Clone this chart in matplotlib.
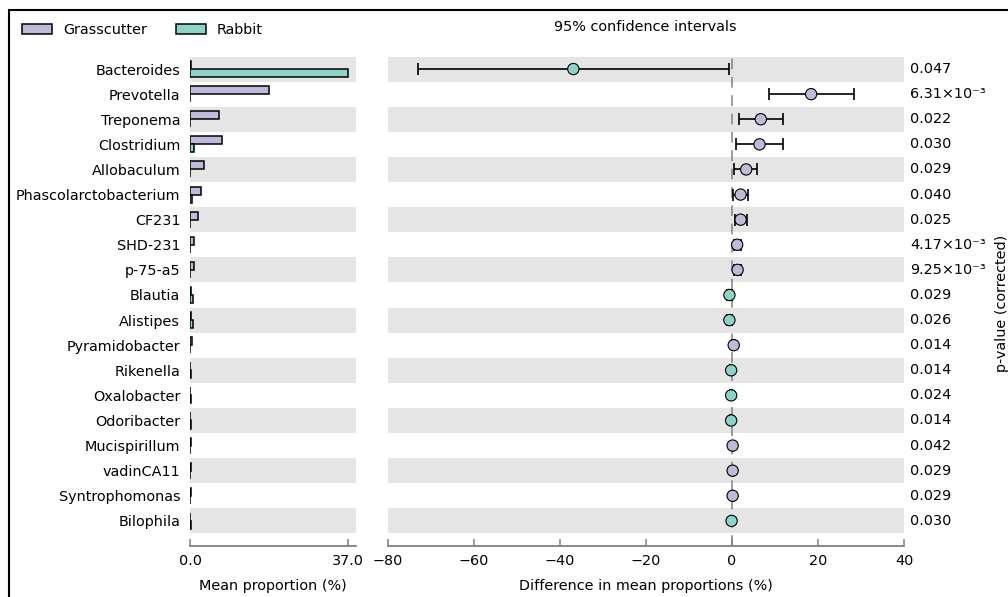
import matplotlib
matplotlib.use("Agg")
import matplotlib.pyplot as plt
import matplotlib.transforms as mtransforms
from matplotlib.patches import Patch, Rectangle
import numpy as np

plt.rcParams["font.family"] = ["DejaVu Sans"]
FS = 10.4

genera = ["Bacteroides", "Prevotella", "Treponema", "Clostridium", "Allobaculum",
          "Phascolarctobacterium", "CF231", "SHD-231", "p-75-a5", "Blautia",
          "Alistipes", "Pyramidobacter", "Rikenella", "Oxalobacter", "Odoribacter",
          "Mucispirillum", "vadinCA11", "Syntrophomonas", "Bilophila"]

# mean proportions (%)
grasscutter = [0.3, 18.5, 6.8, 7.4, 3.3, 2.5, 1.9, 1.0, 1.0, 0.2,
               0.2, 0.4, 0.05, 0.05, 0.05, 0.15, 0.15, 0.15, 0.02]
rabbit = [37.0, 0.1, 0.1, 1.0, 0.1, 0.4, 0.1, 0.05, 0.05, 0.8,
          0.7, 0.02, 0.3, 0.25, 0.25, 0.02, 0.02, 0.02, 0.12]

# difference in mean proportions (%) with 95% CI
diff = [-36.9, 18.4, 6.7, 6.4, 3.3, 2.0, 2.0, 1.2, 1.3, -0.6,
        -0.6, 0.4, -0.2, -0.2, -0.2, 0.15, 0.15, 0.15, -0.1]
ci_low = [-73.0, 8.7, 1.6, 0.9, 0.5, 0.3, 0.6, 0.4, 0.5, -1.2,
          -1.1, 0.1, -0.35, -0.35, -0.35, 0.05, 0.05, 0.05, -0.2]
ci_high = [-0.8, 28.4, 11.8, 11.8, 5.9, 3.8, 3.4, 2.0, 2.1, -0.1,
           -0.1, 0.7, -0.05, -0.05, -0.05, 0.25, 0.25, 0.25, -0.02]

p_values = [0.047, 0.00631, 0.022, 0.030, 0.029, 0.040, 0.025, 0.00417, 0.00925, 0.029,
            0.026, 0.014, 0.014, 0.024, 0.014, 0.042, 0.029, 0.029, 0.030]

diff_ticks = [-80, -60, -40, -20, 0, 20, 40]

C_GRASS = "#bebada"
C_RABBIT = "#8dd3c7"
BAND = "#e5e5e5"
SPINE = "#808080"

W, H = 1008, 597
fig = plt.figure(figsize=(W / 100, H / 100), dpi=100)

ax_top, ax_bot = 56.5, 546
ax_h = (ax_bot - ax_top) / H
ax_b = 1 - ax_bot / H
axL = fig.add_axes([190 / W, ax_b, 166 / W, ax_h])
axR = fig.add_axes([388 / W, ax_b, 516 / W, ax_h])

n = len(genera)
y = np.arange(n)

for ax in (axL, axR):
    for i in range(0, n, 2):
        ax.axhspan(i - 0.5, i + 0.5, color=BAND, lw=0, zorder=0)
    ax.set_ylim(n, -0.5)
    for s in ("top", "right", "left"):
        ax.spines[s].set_visible(False)
    ax.spines["bottom"].set_color(SPINE)
    ax.spines["bottom"].set_linewidth(1.3)
    ax.tick_params(axis="x", direction="in", length=5, width=1.1, color=SPINE,
                   labelsize=FS, pad=6)

# mean proportion bars
max_mean = max(max(grasscutter), max(rabbit))
bh = 0.32
axL.barh(y - bh / 2, grasscutter, height=bh, color=C_GRASS, edgecolor="black",
         linewidth=1.1, zorder=2)
axL.barh(y + bh / 2, rabbit, height=bh, color=C_RABBIT, edgecolor="black",
         linewidth=1.1, zorder=2)
axL.set_xlim(0, max_mean * 1.05)
axL.set_xticks([0, max_mean])
axL.set_xticklabels([f"{0:.1f}", f"{max_mean:.1f}"])
axL.set_yticks(y)
axL.set_yticklabels(genera, fontsize=FS)
axL.tick_params(axis="y", length=0, pad=7)
axL.set_xlabel("Mean proportion (%)", fontsize=FS, labelpad=8)

# difference with confidence intervals
axR.axvline(0, color="#808080", lw=1.1, linestyle=(0, (7, 5)), zorder=1)
diff_a = np.array(diff)
xerr = [diff_a - np.array(ci_low), np.array(ci_high) - diff_a]
axR.errorbar(diff, y, xerr=xerr, fmt="none", ecolor="black", elinewidth=1.2,
             capsize=4, capthick=1.2, zorder=3)
colors = [C_GRASS if d > 0 else C_RABBIT for d in diff]
axR.scatter(diff, y, s=66, c=colors, edgecolors="black", linewidths=0.8, zorder=4)
axR.set_xlim(diff_ticks[0], diff_ticks[-1])
axR.set_xticks(diff_ticks)
axR.set_xticklabels([f"{t}".replace("-", "\u2212") for t in diff_ticks])
axR.set_yticks([])
axR.set_xlabel("Difference in mean proportions (%)", fontsize=FS, labelpad=8)


def fmt_p(p):
    if p < 0.01:
        return f"{p * 1000:.2f}\u00d710\u207b\u00b3"
    return f"{p:.3f}"


trans = mtransforms.blended_transform_factory(axR.transAxes, axR.transData)
for yi, p in zip(y, p_values):
    axR.text(1 + 6 / 516, yi, fmt_p(p), transform=trans, ha="left", va="center",
             fontsize=FS)

fig.text(1002 / W, 1 - 303 / H, "p-value (corrected)", rotation=90,
         ha="center", va="center", fontsize=FS)
fig.text(645.5 / W, 1 - 27 / H, "95% confidence intervals", ha="center",
         va="center", fontsize=FS)

handles = [Patch(facecolor=C_GRASS, edgecolor="black", linewidth=1.1, label="Grasscutter"),
           Patch(facecolor=C_RABBIT, edgecolor="black", linewidth=1.1, label="Rabbit")]
fig.legend(handles=handles, loc="center left", bbox_to_anchor=(22 / W, 1 - 30 / H),
           ncol=2, frameon=False, fontsize=FS, handlelength=2.1, handleheight=0.65,
           handletextpad=0.75, columnspacing=2.0, borderpad=0, borderaxespad=0)

fig.add_artist(Rectangle((9 / W, -0.1), 1.5, 1 - 10 / H + 0.1, fill=False,
                         edgecolor="black", linewidth=1.5,
                         transform=fig.transFigure))

fig.savefig("out.png", dpi=100, facecolor="white")
